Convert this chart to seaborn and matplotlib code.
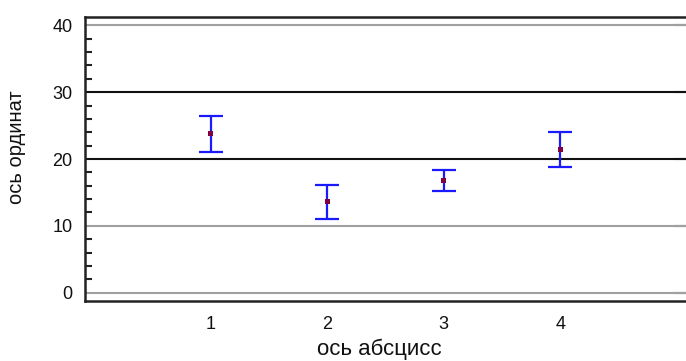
import numpy as np
import pandas as pd
import matplotlib
matplotlib.use('Agg')
import matplotlib.pyplot as plt
from matplotlib.ticker import MultipleLocator
import seaborn as sns

# ============================================================================
# DATA
# ============================================================================
groups = [1, 2, 3, 4]
means = [23.8, 13.6, 16.8, 21.4]
err_low = [2.7, 2.6, 1.6, 2.6]
err_high = [2.7, 2.5, 1.6, 2.7]

y_ticks = [0, 10, 20, 30, 40]
grid_colors = ['#a0a0a0', '#a0a0a0', '#111111', '#111111', '#a0a0a0']

sns.set_style('white')
plt.rcParams['font.family'] = ['Liberation Sans', 'DejaVu Sans']

df = pd.DataFrame({'x': groups, 'y': means})

fig = plt.figure(figsize=(6.86, 3.61), dpi=100)
ax = fig.add_axes([0.124, 0.167, 0.876, 0.785])

for yv, c in zip(y_ticks, grid_colors):
    ax.axhline(yv, color=c, linewidth=1.5, zorder=1)

ax.errorbar(df['x'], df['y'], yerr=[err_low, err_high], fmt='none',
            ecolor='#1a1aff', elinewidth=1.6, capsize=8.3, capthick=1.6, zorder=3)
sns.scatterplot(data=df, x='x', y='y', marker='s', s=12, color='#800040',
                edgecolor='none', ax=ax, zorder=4)

ax.set_xlim(-0.08, 5.08)
ax.set_ylim(-1.2, 41.2)
ax.set_xticks(groups)
ax.set_yticks(y_ticks)
ax.yaxis.set_minor_locator(MultipleLocator(2))
ax.tick_params(axis='x', length=0, labelsize=13, pad=11, labelcolor='#111111')
ax.tick_params(axis='y', which='major', direction='in', length=9, width=1.5,
               labelsize=13, pad=9, right=True, color='#222222', labelcolor='#111111')
ax.tick_params(axis='y', which='minor', direction='in', length=5, width=1.5,
               left=True, color='#222222')

for side in ['left', 'bottom', 'top']:
    ax.spines[side].set_color('#222222')
    ax.spines[side].set_linewidth(1.8)
ax.spines['right'].set_visible(False)

ax.set_xlabel('ось абсцисс', fontsize=16, color='#111111')
ax.set_ylabel('ось ординат', fontsize=14.5, color='#111111')
ax.xaxis.set_label_coords(0.489, -0.135)
ax.yaxis.set_label_coords(-0.099, 0.54)

fig.savefig('out.png', dpi=100)
